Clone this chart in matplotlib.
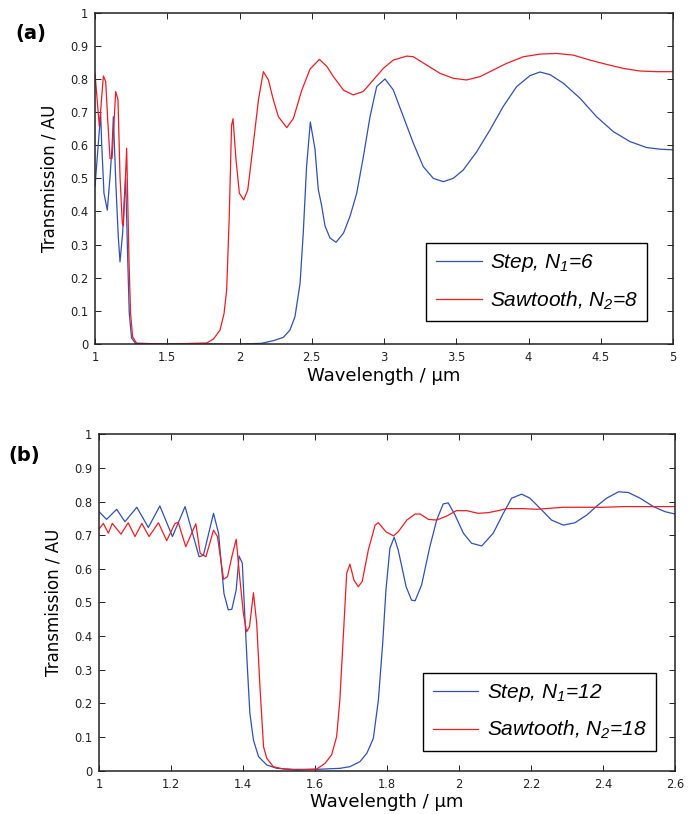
import matplotlib
matplotlib.use('Agg')
import matplotlib.pyplot as plt

plt.rcParams['font.family'] = 'DejaVu Sans'
plt.rcParams['mathtext.fontset'] = 'custom'
plt.rcParams['mathtext.it'] = 'Liberation Sans:italic'
plt.rcParams['mathtext.rm'] = 'Liberation Sans:italic'

# ---- panel (a): Step N1=6 vs Sawtooth N2=8 ----
a_step_x = [1.0, 1.039, 1.046, 1.062, 1.085, 1.104, 1.118, 1.127, 1.145, 1.161, 1.173, 1.191, 1.205,
            1.212, 1.226, 1.237, 1.253, 1.28, 1.5, 2.0, 2.15, 2.234, 2.303, 2.349, 2.384, 2.419, 2.441,
            2.464, 2.49, 2.522, 2.545, 2.568, 2.592, 2.626, 2.668, 2.72, 2.765, 2.811, 2.857, 2.903,
            2.949, 3.007, 3.064, 3.134, 3.203, 3.272, 3.341, 3.41, 3.479, 3.548, 3.641, 3.733, 3.825,
            3.918, 4.01, 4.079, 4.149, 4.241, 4.356, 4.471, 4.587, 4.702, 4.817, 4.91, 5.0]
a_step_y = [0.475, 0.696, 0.606, 0.455, 0.404, 0.505, 0.596, 0.686, 0.475, 0.324, 0.248, 0.334, 0.455,
            0.5, 0.26, 0.093, 0.018, 0.002, 0.0, 0.0, 0.002, 0.01, 0.02, 0.042, 0.083, 0.183, 0.334,
            0.535, 0.67, 0.589, 0.467, 0.418, 0.356, 0.32, 0.307, 0.335, 0.386, 0.455, 0.565, 0.686,
            0.777, 0.8, 0.767, 0.686, 0.606, 0.535, 0.5, 0.49, 0.5, 0.525, 0.58, 0.646, 0.717,
            0.777, 0.81, 0.821, 0.813, 0.787, 0.742, 0.686, 0.641, 0.611, 0.593, 0.588, 0.586]

a_saw_x = [1.0, 1.03, 1.058, 1.074, 1.088, 1.104, 1.118, 1.143, 1.159, 1.173, 1.189, 1.196, 1.208,
           1.219, 1.235, 1.246, 1.26, 1.288, 1.5, 1.773, 1.82, 1.865, 1.893, 1.911, 1.929, 1.945,
           1.955, 1.976, 1.999, 2.029, 2.057, 2.096, 2.131, 2.165, 2.2, 2.234, 2.269, 2.327, 2.373,
           2.43, 2.488, 2.553, 2.604, 2.65, 2.72, 2.787, 2.856, 2.926, 2.995, 3.064, 3.157, 3.203,
           3.295, 3.387, 3.479, 3.571, 3.664, 3.756, 3.848, 3.964, 4.079, 4.194, 4.309, 4.425,
           4.54, 4.655, 4.77, 4.886, 5.0]
a_saw_y = [0.817, 0.656, 0.809, 0.792, 0.676, 0.56, 0.56, 0.762, 0.737, 0.505, 0.364, 0.357, 0.475,
           0.591, 0.254, 0.093, 0.022, 0.002, 0.0, 0.003, 0.015, 0.042, 0.092, 0.163, 0.385, 0.66,
           0.68, 0.555, 0.455, 0.435, 0.465, 0.606, 0.737, 0.822, 0.797, 0.737, 0.686, 0.653, 0.681,
           0.765, 0.83, 0.859, 0.838, 0.807, 0.766, 0.752, 0.762, 0.797, 0.832, 0.857, 0.869, 0.867,
           0.842, 0.817, 0.802, 0.797, 0.807, 0.827, 0.847, 0.867, 0.875, 0.877, 0.872, 0.857,
           0.844, 0.832, 0.824, 0.822, 0.822]

# ---- panel (b): Step N1=12 vs Sawtooth N2=18 ----
b_step_x = [1.0, 1.021, 1.049, 1.072, 1.105, 1.137, 1.169, 1.204, 1.239, 1.278, 1.29, 1.318, 1.332,
            1.347, 1.359, 1.369, 1.381, 1.389, 1.398, 1.406, 1.412, 1.419, 1.429, 1.443, 1.466, 1.494,
            1.54, 1.605, 1.669, 1.697, 1.725, 1.744, 1.762, 1.776, 1.788, 1.797, 1.808, 1.82, 1.831,
            1.841, 1.853, 1.868, 1.878, 1.896, 1.919, 1.938, 1.956, 1.97, 1.989, 2.012, 2.035, 2.063,
            2.095, 2.123, 2.146, 2.174, 2.197, 2.225, 2.257, 2.29, 2.322, 2.355, 2.383, 2.41, 2.443,
            2.47, 2.503, 2.54, 2.572, 2.6]
b_step_y = [0.77, 0.747, 0.777, 0.74, 0.783, 0.723, 0.787, 0.696, 0.785, 0.636, 0.64, 0.765, 0.706,
            0.527, 0.478, 0.48, 0.537, 0.638, 0.617, 0.438, 0.309, 0.171, 0.091, 0.042, 0.017, 0.007,
            0.004, 0.004, 0.007, 0.012, 0.027, 0.052, 0.096, 0.21, 0.379, 0.537, 0.661, 0.694, 0.656,
            0.607, 0.547, 0.507, 0.505, 0.552, 0.666, 0.745, 0.793, 0.796, 0.76, 0.706, 0.676, 0.668,
            0.706, 0.765, 0.81, 0.822, 0.81, 0.78, 0.745, 0.73, 0.737, 0.76, 0.787, 0.81, 0.829,
            0.827, 0.81, 0.785, 0.77, 0.763]

b_saw_x = [1.0, 1.012, 1.026, 1.037, 1.061, 1.081, 1.1, 1.119, 1.139, 1.165, 1.188, 1.211, 1.22,
           1.241, 1.269, 1.281, 1.297, 1.318, 1.329, 1.346, 1.357, 1.369, 1.381, 1.392, 1.401, 1.41,
           1.418, 1.429, 1.438, 1.447, 1.457, 1.466, 1.484, 1.512, 1.55, 1.605, 1.628, 1.646, 1.66,
           1.669, 1.679, 1.688, 1.697, 1.708, 1.72, 1.731, 1.748, 1.767, 1.776, 1.797, 1.818, 1.831,
           1.855, 1.878, 1.892, 1.915, 1.938, 1.966, 1.993, 2.021, 2.053, 2.081, 2.109, 2.133, 2.179,
           2.216, 2.253, 2.29, 2.345, 2.401, 2.457, 2.521, 2.6]
b_saw_y = [0.718, 0.735, 0.706, 0.735, 0.703, 0.737, 0.696, 0.735, 0.696, 0.737, 0.684, 0.735, 0.738,
           0.666, 0.734, 0.646, 0.636, 0.715, 0.696, 0.569, 0.577, 0.636, 0.688, 0.562, 0.468, 0.413,
           0.428, 0.529, 0.438, 0.25, 0.071, 0.037, 0.012, 0.005, 0.002, 0.005, 0.022, 0.047, 0.101,
           0.21, 0.408, 0.587, 0.614, 0.567, 0.547, 0.562, 0.656, 0.73, 0.737, 0.71, 0.698, 0.71,
           0.745, 0.763, 0.763, 0.747, 0.745, 0.757, 0.773, 0.773, 0.765, 0.767, 0.773, 0.779, 0.779,
           0.777, 0.78, 0.783, 0.783, 0.783, 0.785, 0.785, 0.785]

a_xticks = [1, 1.5, 2, 2.5, 3, 3.5, 4, 4.5, 5]
b_xticks = [1, 1.2, 1.4, 1.6, 1.8, 2, 2.2, 2.4, 2.6]
yticks = [0, 0.1, 0.2, 0.3, 0.4, 0.5, 0.6, 0.7, 0.8, 0.9, 1]

BLUE = '#3050b4'
RED = '#ee1c24'

fig = plt.figure(figsize=(6.9, 8.14), dpi=100)
ax_a = fig.add_axes([0.1377, 0.5774, 0.8377, 0.4070])
ax_b = fig.add_axes([0.1435, 0.0532, 0.8348, 0.4133])


def fmt(v):
    return ('%g' % v)


def style(ax, xlim, xticks, leg_labels, leg_anchor):
    ax.set_xlim(*xlim)
    ax.set_ylim(0, 1)
    ax.set_xticks(xticks)
    ax.set_xticklabels([fmt(t) for t in xticks])
    ax.set_yticks(yticks)
    ax.set_yticklabels([fmt(t) for t in yticks])
    ax.tick_params(direction='in', top=True, right=True, length=4, width=0.7,
                   labelsize=8.3, pad=5, colors='#222222')
    for sp in ax.spines.values():
        sp.set_linewidth(1.1)
        sp.set_color('#222222')
    ax.set_xlabel('Wavelength / μm', fontsize=13, labelpad=2)
    ax.set_ylabel('Transmission / AU', fontsize=12, labelpad=8)
    leg = ax.legend(leg_labels, loc='lower right', bbox_to_anchor=leg_anchor,
                    prop={'family': 'Liberation Sans', 'style': 'italic', 'size': 15},
                    fancybox=False, frameon=True, edgecolor='black', framealpha=1,
                    handlelength=2.2, handletextpad=0.4, borderpad=0.45,
                    labelspacing=0.72, borderaxespad=0)
    leg.get_frame().set_linewidth(1.0)


ax_a.plot(a_step_x, a_step_y, color=BLUE, lw=0.9)
ax_a.plot(a_saw_x, a_saw_y, color=RED, lw=0.9)
style(ax_a, (1, 5), a_xticks, ['Step, $N_1$=6', 'Sawtooth, $N_2$=8'], (0.9555, 0.069))

ax_b.plot(b_step_x, b_step_y, color=BLUE, lw=0.9)
ax_b.plot(b_saw_x, b_saw_y, color=RED, lw=0.9)
style(ax_b, (1, 2.6), b_xticks, ['Step, $N_1$=12', 'Sawtooth, $N_2$=18'], (0.9665, 0.0595))

fig.text(31 / 690, 1 - 34 / 814, '(a)', fontsize=14, fontweight='bold', ha='center', va='center')
fig.text(24.5 / 690, 1 - 455 / 814, '(b)', fontsize=14, fontweight='bold', ha='center', va='center')

fig.savefig('out.png', dpi=100)
